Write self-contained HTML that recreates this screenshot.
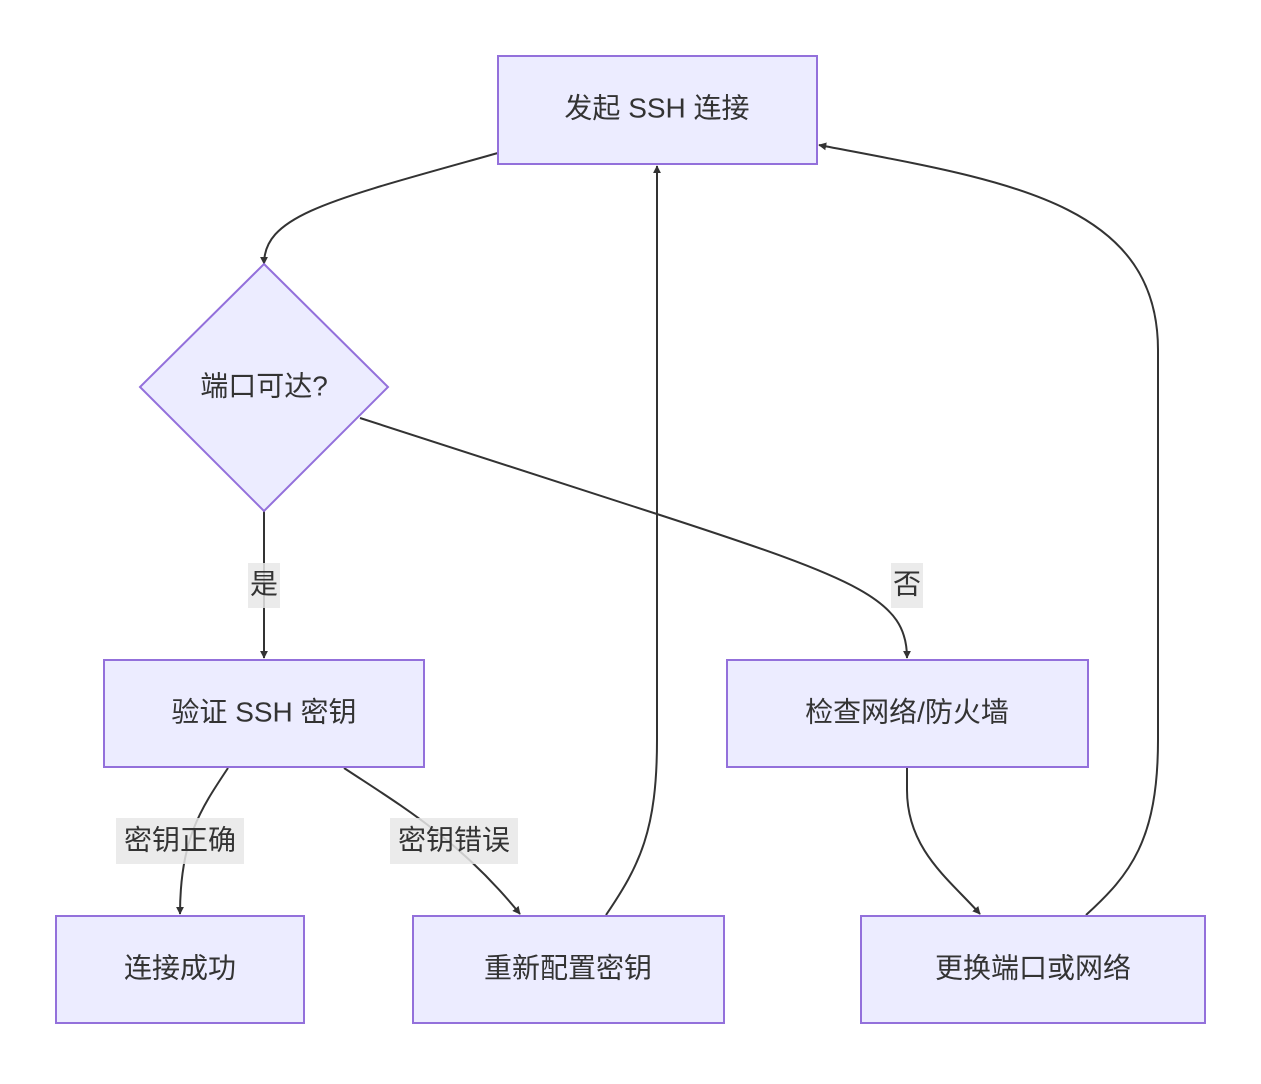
<!DOCTYPE html>
<html><head><meta charset="utf-8"><style>
html,body{margin:0;padding:0;background:#fff;}
svg text{font-family:"Liberation Sans","Noto Sans CJK SC",sans-serif;fill:#333;font-size:28px;}
</style></head><body>
<svg width="1261" height="1079" viewBox="0 0 1261 1079" xmlns="http://www.w3.org/2000/svg">
<defs><marker id="a" viewBox="0 0 10 10" refX="9" refY="5" markerWidth="8" markerHeight="8" markerUnits="userSpaceOnUse" orient="auto"><path d="M0,0L10,5L0,10z" fill="#333"/></marker></defs>
<g fill="none" stroke="#333" stroke-width="2" marker-end="url(#a)">
<path d="M498,153 C330,200 264,215 264,264"/>
<path d="M264,511 L264,658"/>
<path d="M360,418 L660,515 C860,580 907,600 907,658"/>
<path d="M228,768 C200,810 180,840 180,914"/>
<path d="M344,768 C400,805 460,840 520,914"/>
<path d="M606,915 C640,865 657,830 657,740 L657,166"/>
<path d="M907,768 L907,790 C907,850 950,880 980,914"/>
<path d="M1086,915 C1130,875 1158,840 1158,740 L1158,350 C1158,200 1000,180 819,145"/>
</g>
<g fill="#ECECFF" stroke="#9370DB" stroke-width="2">
<rect x="498" y="56" width="319" height="108"/>
<path d="M264,264 L388,387 L264,511 L140,387 Z"/>
<rect x="104" y="660" width="320" height="107"/>
<rect x="727" y="660" width="361" height="107"/>
<rect x="56" y="916" width="248" height="107"/>
<rect x="413" y="916" width="311" height="107"/>
<rect x="861" y="916" width="344" height="107"/>
</g>
<g fill="rgba(232,232,232,0.85)">
<rect x="248" y="563" width="32" height="45"/>
<rect x="891" y="563" width="32" height="45"/>
<rect x="116" y="818" width="128" height="46"/>
<rect x="390" y="818" width="128" height="46"/>
</g>
<g text-anchor="middle" dominant-baseline="central">
<text x="657" y="108">发起 SSH 连接</text>
<text x="264" y="386">端口可达?</text>
<text x="264" y="712">验证 SSH 密钥</text>
<text x="907" y="712">检查网络/防火墙</text>
<text x="180" y="968">连接成功</text>
<text x="568" y="968">重新配置密钥</text>
<text x="1033" y="968">更换端口或网络</text>
<text x="264" y="584">是</text>
<text x="907" y="584">否</text>
<text x="180" y="840">密钥正确</text>
<text x="454" y="840">密钥错误</text>
</g>
</svg>
</body></html>
